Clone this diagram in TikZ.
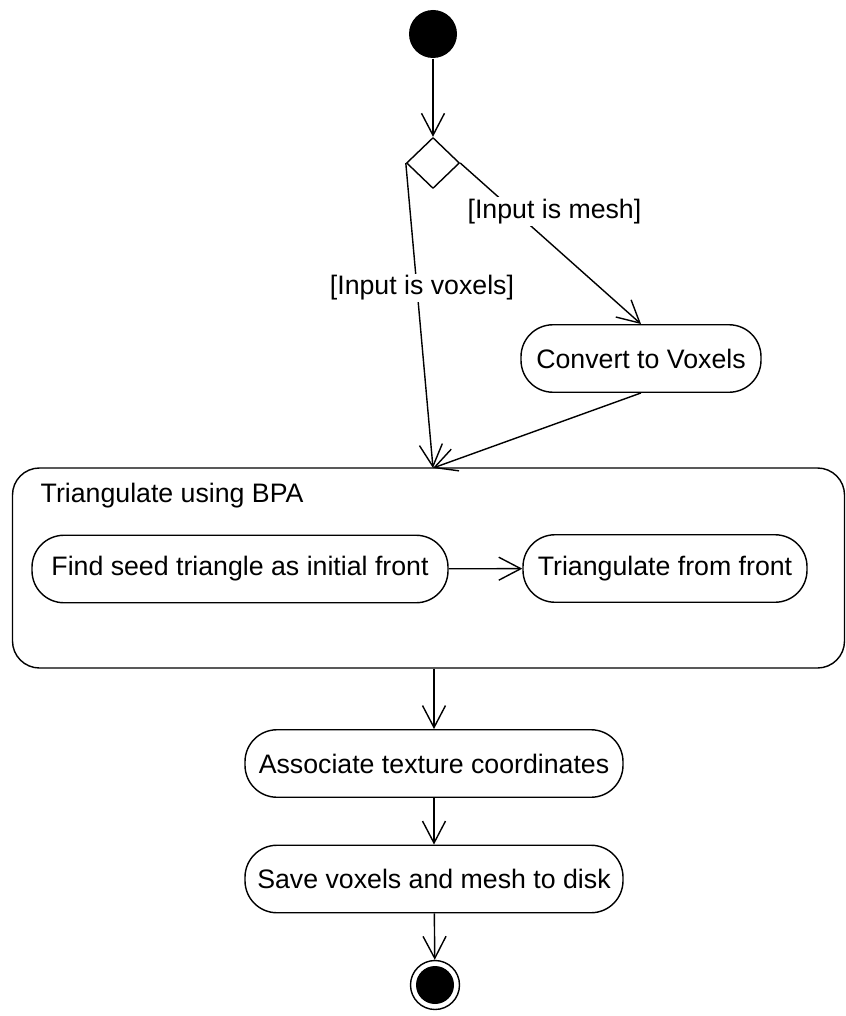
\documentclass[tikz,border=0pt]{standalone}
\usepackage{fontspec}
\setmainfont{Liberation Sans}
\usetikzlibrary{arrows.meta,shapes.geometric}

\begin{document}
\begin{tikzpicture}[x=.2mm,y=-.2mm,line width=.8pt,line join=round,
  >={Straight Barb[length=4.4mm,width=4.6mm]},
  every node/.style={font=\fontsize{15.2}{18}\selectfont},
  action/.style={draw,rounded corners=6.4mm,minimum height=13.5mm,inner sep=0pt},
  guard/.style={fill=white,inner sep=1pt}]
\useasboundingbox (0,0) rectangle (846,1016);
\node[circle,fill=black,minimum size=9.6mm,inner sep=0pt] (start) at (433,34) {};
\node[diamond,draw,minimum width=10.6mm,minimum height=10.2mm,inner sep=0pt] (dec) at (433,163) {};
\node[action,minimum width=48mm] (conv) at (641,358.5) {Convert to Voxels};
\node[draw,rounded corners=5.4mm,minimum width=166.4mm,minimum height=40mm] (bpa) at (428.5,568) {};
\node[anchor=base west,inner sep=0pt] (bpatitle) at (40,502) {Triangulate using BPA};
\node[action,minimum width=83.2mm] (seed) at (240,569) {Find seed triangle as initial front};
\node[action,minimum width=56.8mm] (front) at (665,568.5) {Triangulate from front};
\node[action,minimum width=75.6mm] (assoc) at (434,763.5) {Associate texture coordinates};
\node[action,minimum width=75.6mm] (save) at (434,879) {Save voxels and mesh to disk};
\node[circle,draw,minimum size=9.8mm,inner sep=0pt] (final) at (435,985) {};
\fill (final.center) circle (3.8mm);
\coordinate (join) at (433,468);
\draw[->] (start) -- (dec.north);
\draw[->] (dec.west) -- node[guard,pos=.41,xshift=1mm] {[Input is voxels]} (join);
\draw[->] (dec.east) -- node[guard,pos=.3,xshift=8mm] {[Input is mesh]} (conv.north);
\draw[->] (conv.south) -- (join);
\draw[->] (seed) -- (front);
\draw[->] (assoc.north |- bpa.south) -- (assoc);
\draw[->] (assoc) -- (save);
\draw[->] (save) -- (final);
\end{tikzpicture}
\end{document}
